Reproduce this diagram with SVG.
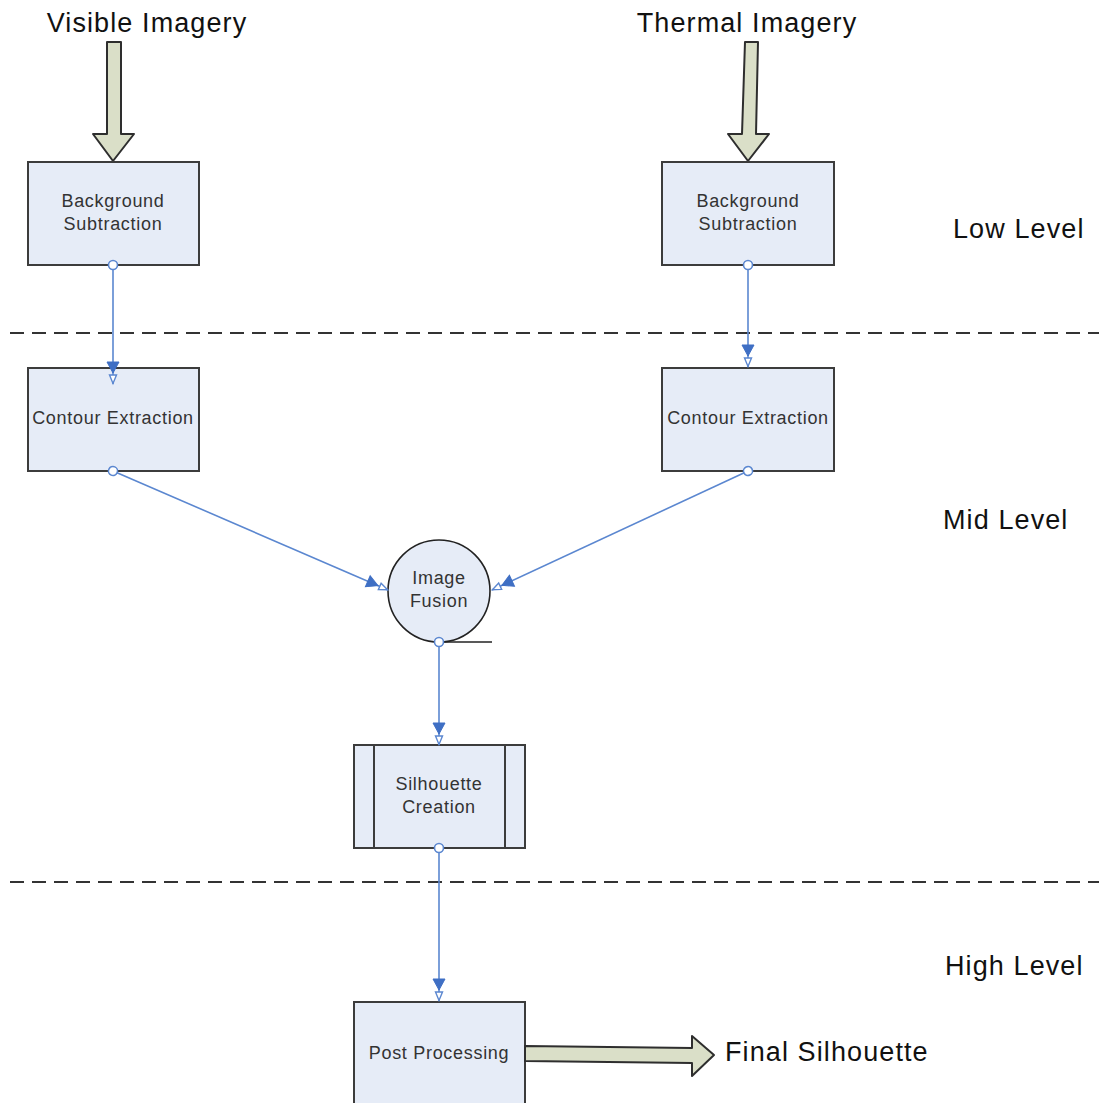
<svg xmlns="http://www.w3.org/2000/svg" width="1099" height="1103" viewBox="0 0 1099 1103">
  <style>
    .box { fill: #e6ecf7; stroke: #3c3c3c; stroke-width: 2; }
    .lbl { font-family: "Liberation Sans", Arial, sans-serif; font-size: 18px; letter-spacing: 0.7px; fill: #333; text-anchor: middle; }
    .big { font-family: "Liberation Sans", Arial, sans-serif; font-size: 27px; letter-spacing: 1.1px; fill: #111; }
    .fat { fill: #dadfc8; stroke: #2e2e2e; stroke-width: 2; stroke-linejoin: round; }
    .conn { fill: none; stroke: #5b87d0; stroke-width: 1.6; marker-start: url(#dot); marker-end: url(#head); }
    .sep { stroke: #333; stroke-width: 2; stroke-dasharray: 14 8; }
  </style>
  <defs>
    <marker id="dot" markerUnits="userSpaceOnUse" markerWidth="12" markerHeight="12" refX="6" refY="6" orient="auto" overflow="visible">
      <circle cx="6" cy="6" r="4.5" fill="#fff" stroke="#5b87d0" stroke-width="1.6"/>
    </marker>
    <marker id="head" markerUnits="userSpaceOnUse" markerWidth="30" markerHeight="16" refX="24" refY="8" orient="auto" overflow="visible">
      <path d="M2,2 L13,8 L2,14 Z" fill="#3f6fc4" stroke="#3f6fc4" stroke-width="1"/>
      <path d="M15,4.5 L23.5,8 L15,11.5 Z" fill="#fff" stroke="#5b87d0" stroke-width="1.4"/>
    </marker>
  </defs>

  <rect width="1099" height="1103" fill="#fff"/>

  <!-- level separators -->
  <line class="sep" x1="10" y1="333" x2="1099" y2="333"/>
  <line class="sep" x1="10" y1="882" x2="1099" y2="882"/>

  <!-- level labels -->
  <text class="big" x="953" y="238">Low Level</text>
  <text class="big" x="943" y="529">Mid Level</text>
  <text class="big" x="945" y="975">High Level</text>

  <!-- inputs -->
  <g id="visible-input">
    <text class="big" x="147" y="32" text-anchor="middle">Visible Imagery</text>
    <path class="fat" d="M107,42 L121,42 L121,134 L134,134 L113,161 L93,134 L107,134 Z"/>
  </g>
  <g id="thermal-input">
    <text class="big" x="747" y="32" text-anchor="middle">Thermal Imagery</text>
    <path class="fat" d="M745,42 L758,42 L756,134 L769,134 L748,161 L728,134 L742,134 Z"/>
  </g>

  <g id="bg-sub-visible">
    <rect class="box" x="28" y="162" width="171" height="103"/>
    <text class="lbl" x="113" y="207">Background</text>
    <text class="lbl" x="113" y="230">Subtraction</text>
  </g>
  <g id="bg-sub-thermal">
    <rect class="box" x="662" y="162" width="172" height="103"/>
    <text class="lbl" x="748" y="207">Background</text>
    <text class="lbl" x="748" y="230">Subtraction</text>
  </g>
  <g id="contour-visible">
    <rect class="box" x="28" y="368" width="171" height="103"/>
    <text class="lbl" x="113" y="424">Contour Extraction</text>
  </g>
  <g id="contour-thermal">
    <rect class="box" x="662" y="368" width="172" height="103"/>
    <text class="lbl" x="748" y="424">Contour Extraction</text>
  </g>
  <g id="image-fusion">
    <circle cx="439" cy="591" r="51" fill="#e6ecf7" stroke="#222" stroke-width="1.6"/>
    <line x1="439" y1="642" x2="492" y2="642" stroke="#222" stroke-width="1.6"/>
    <text class="lbl" x="439" y="584">Image</text>
    <text class="lbl" x="439" y="607">Fusion</text>
  </g>
  <g id="silhouette-creation">
    <rect class="box" x="354" y="745" width="171" height="103"/>
    <line x1="374" y1="745" x2="374" y2="848" stroke="#3c3c3c" stroke-width="2"/>
    <line x1="505" y1="745" x2="505" y2="848" stroke="#3c3c3c" stroke-width="2"/>
    <text class="lbl" x="439" y="790">Silhouette</text>
    <text class="lbl" x="439" y="813">Creation</text>
  </g>
  <g id="post-processing">
    <rect class="box" x="354" y="1002" width="171" height="110"/>
    <text class="lbl" x="439" y="1059">Post Processing</text>
  </g>
  <g id="final-output">
    <path class="fat" d="M525,1046 L692,1048 L692,1036 L714,1055 L692,1076 L692,1063 L525,1061 Z"/>
    <text class="big" x="725" y="1061">Final Silhouette</text>
  </g>

  <g id="connectors">
    <line class="conn" x1="113" y1="265" x2="113" y2="384"/>
    <line class="conn" x1="748" y1="265" x2="748" y2="367"/>
    <line class="conn" x1="113" y1="471" x2="388" y2="590"/>
    <line class="conn" x1="748" y1="471" x2="492" y2="590"/>
    <line class="conn" x1="439" y1="642" x2="439" y2="745"/>
    <line class="conn" x1="439" y1="848" x2="439" y2="1001"/>
  </g>
</svg>
